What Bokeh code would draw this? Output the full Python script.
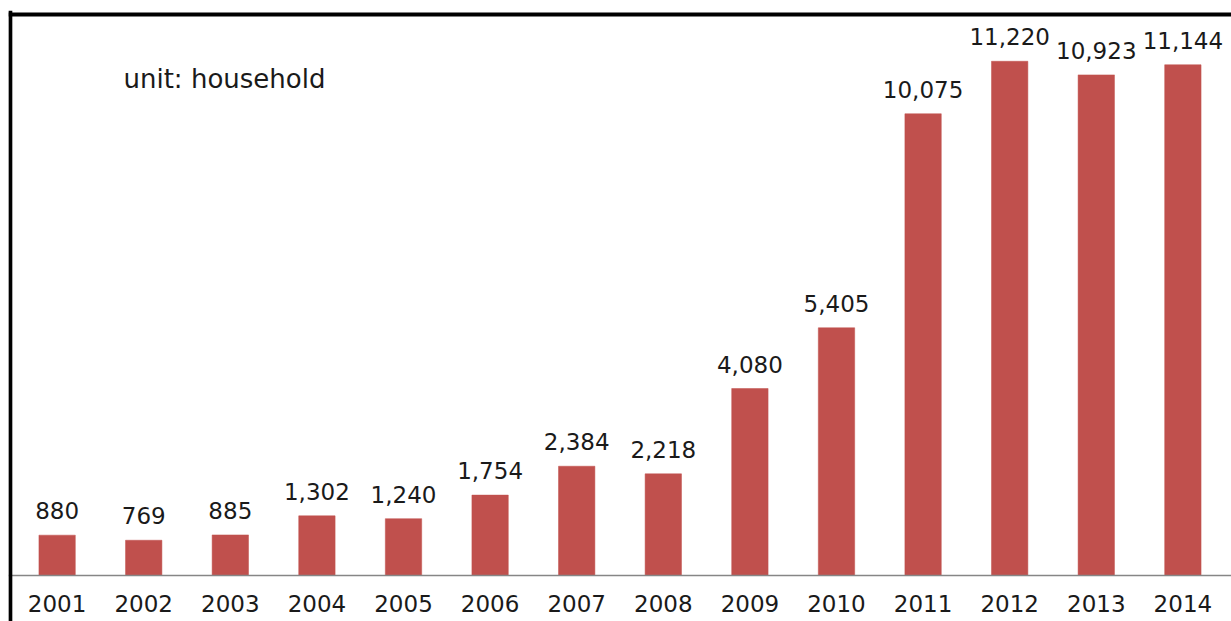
from bokeh.plotting import figure
from bokeh.models import ColumnDataSource, LabelSet, Label, Span, Range1d, FactorRange
from bokeh.core.properties import value
from bokeh.embed import file_html
from bokeh.resources import INLINE

years = ["2001", "2002", "2003", "2004", "2005", "2006", "2007",
         "2008", "2009", "2010", "2011", "2012", "2013", "2014"]
households = [880, 769, 885, 1302, 1240, 1754, 2384,
              2218, 4080, 5405, 10075, 11220, 10923, 11144]
value_labels = ["{:,}".format(v) for v in households]
unit_text = "unit: household"

BAR_COLOR = "#C0504D"
TEXT_COLOR = "#1a1a1a"
FONT = "DejaVu Sans"

src = ColumnDataSource(dict(year=years, count=households, label=value_labels,
                            zero=[0] * len(years)))

x_range = FactorRange(factors=years, range_padding=0.123 / 14.0)
y_range = Range1d(-1004, 12328)

p = figure(width=1231, height=621, x_range=x_range, y_range=y_range,
           output_backend="svg", toolbar_location=None,
           x_axis_location=None, y_axis_location=None,
           min_border_left=8, min_border_right=0,
           min_border_top=10, min_border_bottom=0)
p.outline_line_color = None
p.grid.visible = False
p.background_fill_color = "white"
p.border_fill_color = "white"

p.vbar(x="year", top="count", width=0.42, source=src,
       fill_color=BAR_COLOR, line_color=BAR_COLOR, line_width=0.5)

# baseline
p.add_layout(Span(location=0, dimension="width", line_color="#868686", line_width=1.5))

# frame border (left and top)
p.add_layout(Span(location=12241, dimension="width", line_color="black", line_width=4))
p.add_layout(Span(location=-0.0405, dimension="height", line_color="black", line_width=4))

vals = LabelSet(x="year", y="count", text="label", source=src, y_offset=16,
                text_align="center", text_baseline="alphabetic",
                text_font=value(FONT), text_font_size="23px", text_color=TEXT_COLOR)
p.add_layout(vals)

yrs = LabelSet(x="year", y="zero", text="year", source=src, y_offset=-37,
               text_align="center", text_baseline="alphabetic",
               text_font=value(FONT), text_font_size="23px", text_color=TEXT_COLOR)
p.add_layout(yrs)

p.add_layout(Label(x=1.2665, y=10823, text=unit_text, text_align="left",
                   text_baseline="alphabetic", text_font=FONT,
                   text_font_size="26px", text_color=TEXT_COLOR))

open("out.html", "w").write(file_html(p, INLINE))
